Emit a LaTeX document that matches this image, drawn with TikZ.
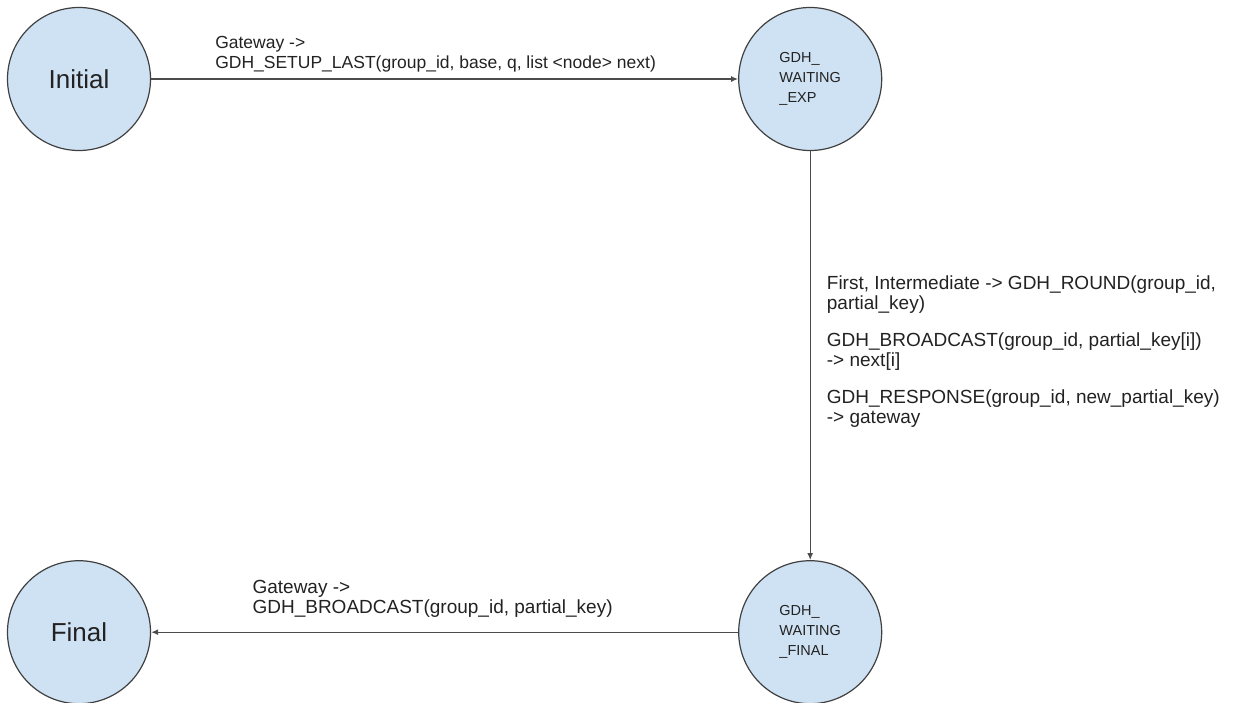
\documentclass[tikz,border=0pt]{standalone}
\usepackage{fontspec}
\setmainfont{Liberation Sans}
\usepackage{tikz}
\usetikzlibrary{arrows.meta, positioning}
\definecolor{phasefill}{HTML}{CFE2F3}
\definecolor{ink}{HTML}{222222}
\tikzset{
  phase/.style={draw=black!75, line width=1.2pt, circle, fill=phasefill, minimum size=143pt, inner sep=0pt, text=ink, font=\fontsize{26}{30}\selectfont},
  midphase/.style={phase, align=left, font=\fontsize{14.5}{20}\selectfont},
  arrow/.style={-{Latex[length=7pt, width=6pt]}, line width=1.4pt, black!70},
  note/.style={align=left, inner sep=0pt, text=ink, font=\fontsize{19}{20}\selectfont},
  topnote/.style={note, font=\fontsize{17.5}{20}\selectfont}
}

\begin{document}
\begin{tikzpicture}[x=1pt, y=-1pt]
    \useasboundingbox (0,0) rectangle (1235,702);
    \node[phase] (init) at (79,79) {Initial};
    \node[midphase, right=587pt of init] (exp) {GDH\_\\WAITING\\\_EXP};
    \node[midphase, below=409pt of exp] (fin) {GDH\_\\WAITING\\\_FINAL};
    \node[phase, left=587pt of fin] (final) {Final};

    \draw[arrow] (init) -- node[above, topnote, xshift=-9pt, yshift=6pt] {Gateway ->\\GDH\_SETUP\_LAST(group\_id, base, q, list <node> next)} (exp);
    \draw[arrow] (exp) -- node[right, note, xshift=16pt, yshift=4pt] {First, Intermediate -> GDH\_ROUND(group\_id,\\partial\_key)\\[17pt]GDH\_BROADCAST(group\_id, partial\_key[i])\\-> next[i]\\[17pt]GDH\_RESPONSE(group\_id, new\_partial\_key)\\-> gateway} (fin);
    \draw[arrow] (fin) -- node[above, note, xshift=-12pt, yshift=14pt] {Gateway ->\\GDH\_BROADCAST(group\_id, partial\_key)} (final);
\end{tikzpicture}
\end{document}
